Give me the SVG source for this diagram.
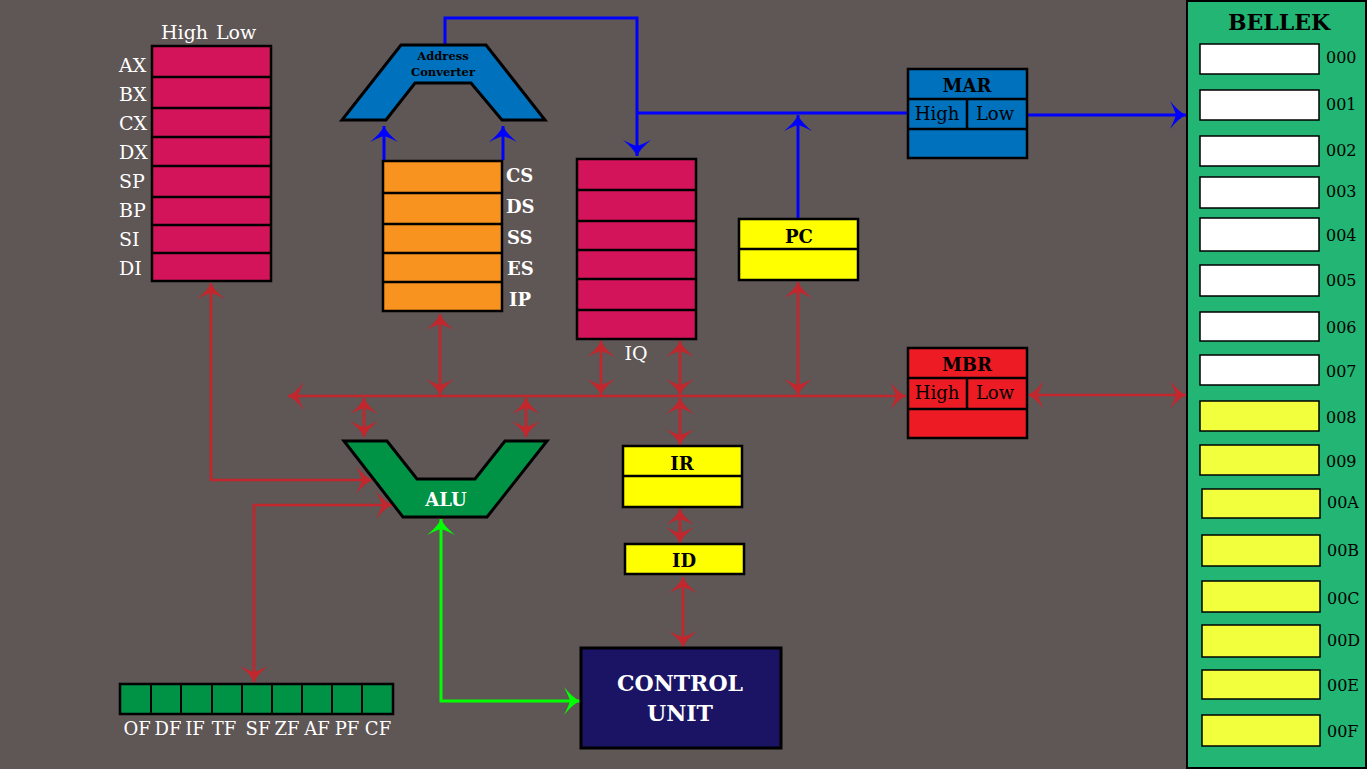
<svg xmlns="http://www.w3.org/2000/svg" width="1367" height="769" viewBox="0 0 1367 769">
<defs>
<style>
.t{font-family:"DejaVu Serif","Liberation Serif",serif;}
.w{fill:#ffffff;}
.k{fill:#000000;}
.b{font-weight:bold;}
.box{stroke:#000;stroke-width:2.5;}
.mag{fill:#d4145a;}
.org{fill:#f7931e;}
.blu{fill:#0071bc;}
.yel{fill:#ffff00;}
.mbr{fill:#ed1c24;}
.grn{fill:#009245;}
.cell{stroke:#000;stroke-width:1.5;}
.mw{fill:#ffffff;}
.my{fill:#f1ff3d;}
.red{stroke:#c1272d;stroke-width:2.7;fill:none;}
.bl{stroke:#0000ff;stroke-width:3;fill:none;}
.gr{stroke:#00ff00;stroke-width:3;fill:none;}
</style>
<marker id="ar" viewBox="-18 -15 20 30" refX="0" refY="0" markerWidth="20" markerHeight="30" markerUnits="userSpaceOnUse" orient="auto-start-reverse">
<path d="M0,0 Q-7,-3 -16,-14 Q-11,-4 -10,0 Q-11,4 -16,14 Q-7,3 0,0Z" fill="#c1272d"/>
</marker>
<marker id="ab" viewBox="-18 -15 20 30" refX="0" refY="0" markerWidth="20" markerHeight="30" markerUnits="userSpaceOnUse" orient="auto-start-reverse">
<path d="M0,0 Q-7,-3 -16,-14 Q-11,-4 -10,0 Q-11,4 -16,14 Q-7,3 0,0Z" fill="#0000ff"/>
</marker>
<marker id="ag" viewBox="-18 -15 20 30" refX="0" refY="0" markerWidth="20" markerHeight="30" markerUnits="userSpaceOnUse" orient="auto-start-reverse">
<path d="M0,0 Q-7,-3 -16,-14 Q-11,-4 -10,0 Q-11,4 -16,14 Q-7,3 0,0Z" fill="#00ff00"/>
</marker>
</defs>
<rect x="0" y="0" width="1367" height="769" fill="#5f5656"/>

<g id="connectors">
<polyline class="bl" points="445,45 445,18 637,18 637,156" marker-end="url(#ab)"/>
<line class="bl" x1="637" y1="113" x2="908" y2="113"/>
<line class="bl" x1="798" y1="219" x2="798" y2="115" marker-end="url(#ab)"/>
<line class="bl" x1="1027" y1="115" x2="1186" y2="115" marker-end="url(#ab)"/>
<line class="bl" x1="384" y1="160" x2="384" y2="126" marker-end="url(#ab)"/>
<line class="bl" x1="503" y1="160" x2="503" y2="126" marker-end="url(#ab)"/>
<line class="red" x1="288" y1="396" x2="906" y2="396" marker-start="url(#ar)" marker-end="url(#ar)"/>
<line class="red" x1="440" y1="314" x2="440" y2="395" marker-start="url(#ar)" marker-end="url(#ar)"/>
<line class="red" x1="601" y1="341" x2="601" y2="395" marker-start="url(#ar)" marker-end="url(#ar)"/>
<line class="red" x1="680" y1="341" x2="680" y2="395" marker-start="url(#ar)" marker-end="url(#ar)"/>
<line class="red" x1="798" y1="282" x2="798" y2="395" marker-start="url(#ar)" marker-end="url(#ar)"/>
<line class="red" x1="364" y1="398" x2="364" y2="437" marker-start="url(#ar)" marker-end="url(#ar)"/>
<line class="red" x1="526" y1="398" x2="526" y2="437" marker-start="url(#ar)" marker-end="url(#ar)"/>
<line class="red" x1="680" y1="398" x2="680" y2="445" marker-start="url(#ar)" marker-end="url(#ar)"/>
<line class="red" x1="680" y1="509" x2="680" y2="543" marker-start="url(#ar)" marker-end="url(#ar)"/>
<line class="red" x1="683" y1="577" x2="683" y2="647" marker-start="url(#ar)" marker-end="url(#ar)"/>
<line class="red" x1="1028" y1="395" x2="1186" y2="395" marker-start="url(#ar)" marker-end="url(#ar)"/>
<polyline class="red" points="211,283 211,480 372,480" marker-start="url(#ar)" marker-end="url(#ar)"/>
<polyline class="red" points="254,682 254,505 392,505" marker-start="url(#ar)" marker-end="url(#ar)"/>
<polyline class="gr" points="441,519 441,701 580,701" marker-start="url(#ag)" marker-end="url(#ag)"/>
</g>

<g id="general-registers">
<rect class="box mag" x="152" y="46" width="119" height="235"/>
<path d="M152,77H271M152,108H271M152,137H271M152,166H271M152,197H271M152,225H271M152,253H271" stroke="#000" stroke-width="2.5"/>
<text class="t w" x="161" y="39" font-size="19">High</text>
<text class="t w" x="216" y="39" font-size="19">Low</text>
<g class="t w" font-size="19">
<text x="119" y="72">AX</text>
<text x="119" y="101">BX</text>
<text x="119" y="130">CX</text>
<text x="119" y="159">DX</text>
<text x="119" y="188">SP</text>
<text x="119" y="217">BP</text>
<text x="119" y="246">SI</text>
<text x="119" y="275">DI</text>
</g>
</g>

<g id="address-converter">
<path d="M401,45 L486,45 L545,120 L502,120 L471,83 L415,83 L386,120 L342,120 Z" fill="#0071bc" stroke="#000" stroke-width="3"/>
<text class="t k b" x="443" y="60" font-size="11.5" text-anchor="middle">Address</text>
<text class="t k b" x="443" y="76" font-size="11.5" text-anchor="middle">Converter</text>
</g>

<g id="segment-registers">
<rect class="box org" x="383" y="161" width="119" height="150"/>
<path d="M383,193H502M383,224H502M383,253H502M383,282H502" stroke="#000" stroke-width="2.5"/>
<g class="t w b" font-size="18">
<text x="506" y="182">CS</text>
<text x="506" y="213">DS</text>
<text x="507" y="244">SS</text>
<text x="507" y="275">ES</text>
<text x="509" y="306">IP</text>
</g>
</g>

<g id="iq">
<rect class="box mag" x="577" y="159" width="119" height="180"/>
<path d="M577,190H696M577,221H696M577,250H696M577,279H696M577,310H696" stroke="#000" stroke-width="2.5"/>
<text class="t w" x="636" y="360" font-size="19" text-anchor="middle">IQ</text>
</g>

<g id="pc">
<rect class="box yel" x="739" y="219" width="119" height="61"/>
<line x1="739" y1="249" x2="858" y2="249" stroke="#000" stroke-width="2.5"/>
<text class="t k b" x="799" y="243" font-size="18" text-anchor="middle">PC</text>
</g>

<g id="mar">
<rect class="box blu" x="908" y="69" width="119" height="89"/>
<path d="M908,99H1027M908,129H1027M967,99V129" stroke="#000" stroke-width="2.5"/>
<text class="t k b" x="967" y="92" font-size="18" text-anchor="middle">MAR</text>
<text class="t k" x="937" y="120" font-size="18" text-anchor="middle">High</text>
<text class="t k" x="995" y="120" font-size="18" text-anchor="middle">Low</text>
</g>

<g id="mbr">
<rect class="box mbr" x="908" y="348" width="119" height="90"/>
<path d="M908,378H1027M908,409H1027M967,378V409" stroke="#000" stroke-width="2.5"/>
<text class="t k b" x="967" y="371" font-size="18" text-anchor="middle">MBR</text>
<text class="t k" x="937" y="399" font-size="18" text-anchor="middle">High</text>
<text class="t k" x="995" y="399" font-size="18" text-anchor="middle">Low</text>
</g>

<g id="alu">
<path d="M344,441 L387,441 L417,479 L475,479 L505,441 L547,441 L487,517 L403,517 Z" fill="#009245" stroke="#000" stroke-width="3"/>
<text class="t w b" x="446" y="506" font-size="18" text-anchor="middle">ALU</text>
</g>

<g id="ir">
<rect class="box yel" x="623" y="446" width="119" height="61"/>
<line x1="623" y1="476" x2="742" y2="476" stroke="#000" stroke-width="2.5"/>
<text class="t k b" x="682" y="470" font-size="18" text-anchor="middle">IR</text>
</g>

<g id="id">
<rect class="box yel" x="625" y="544" width="119" height="30"/>
<text class="t k b" x="684" y="567" font-size="18" text-anchor="middle">ID</text>
</g>

<g id="control-unit">
<rect x="581" y="648" width="200" height="100" fill="#1b1464" stroke="#000" stroke-width="3"/>
<text class="t w b" x="680" y="691" font-size="22" text-anchor="middle">CONTROL</text>
<text class="t w b" x="680" y="721" font-size="22" text-anchor="middle">UNIT</text>
</g>

<g id="flags">
<rect class="box grn" x="120" y="684" width="273" height="30"/>
<path d="M151,684V714M181,684V714M212,684V714M242,684V714M272,684V714M302,684V714M332,684V714M362,684V714" stroke="#000" stroke-width="2"/>
<g class="t w" font-size="18" text-anchor="middle">
<text x="137" y="735">OF</text>
<text x="168" y="735">DF</text>
<text x="195" y="735">IF</text>
<text x="224" y="735">TF</text>
<text x="258" y="735">SF</text>
<text x="287" y="735">ZF</text>
<text x="317" y="735">AF</text>
<text x="347" y="735">PF</text>
<text x="378" y="735">CF</text>
</g>
</g>

<g id="memory">
<rect x="1187" y="1" width="179" height="767" fill="#22b573" stroke="#000" stroke-width="2"/>
<text class="t k b" x="1279" y="30" font-size="22" text-anchor="middle">BELLEK</text>
<rect class="cell mw" x="1200" y="44" width="119" height="30"/>
<rect class="cell mw" x="1200" y="90" width="119" height="30"/>
<rect class="cell mw" x="1200" y="136" width="119" height="30"/>
<rect class="cell mw" x="1200" y="177" width="119" height="31"/>
<rect class="cell mw" x="1200" y="218" width="119" height="33"/>
<rect class="cell mw" x="1200" y="265" width="119" height="31"/>
<rect class="cell mw" x="1200" y="312" width="119" height="29"/>
<rect class="cell mw" x="1200" y="355" width="119" height="30"/>
<rect class="cell my" x="1200" y="401" width="119" height="30"/>
<rect class="cell my" x="1200" y="445" width="119" height="30"/>
<rect class="cell my" x="1202" y="489" width="118" height="29"/>
<rect class="cell my" x="1202" y="535" width="118" height="31"/>
<rect class="cell my" x="1202" y="581" width="118" height="31"/>
<rect class="cell my" x="1202" y="625" width="118" height="32"/>
<rect class="cell my" x="1202" y="670" width="118" height="29"/>
<rect class="cell my" x="1202" y="715" width="118" height="31"/>
<g class="t k" font-size="16">
<text x="1326" y="63">000</text>
<text x="1326" y="110">001</text>
<text x="1326" y="156">002</text>
<text x="1326" y="197">003</text>
<text x="1326" y="241">004</text>
<text x="1326" y="286">005</text>
<text x="1326" y="333">006</text>
<text x="1326" y="377">007</text>
<text x="1326" y="423">008</text>
<text x="1326" y="467">009</text>
<text x="1327" y="508">00A</text>
<text x="1327" y="556">00B</text>
<text x="1327" y="604">00C</text>
<text x="1327" y="646">00D</text>
<text x="1327" y="691">00E</text>
<text x="1327" y="737">00F</text>
</g>
</g>
</svg>
